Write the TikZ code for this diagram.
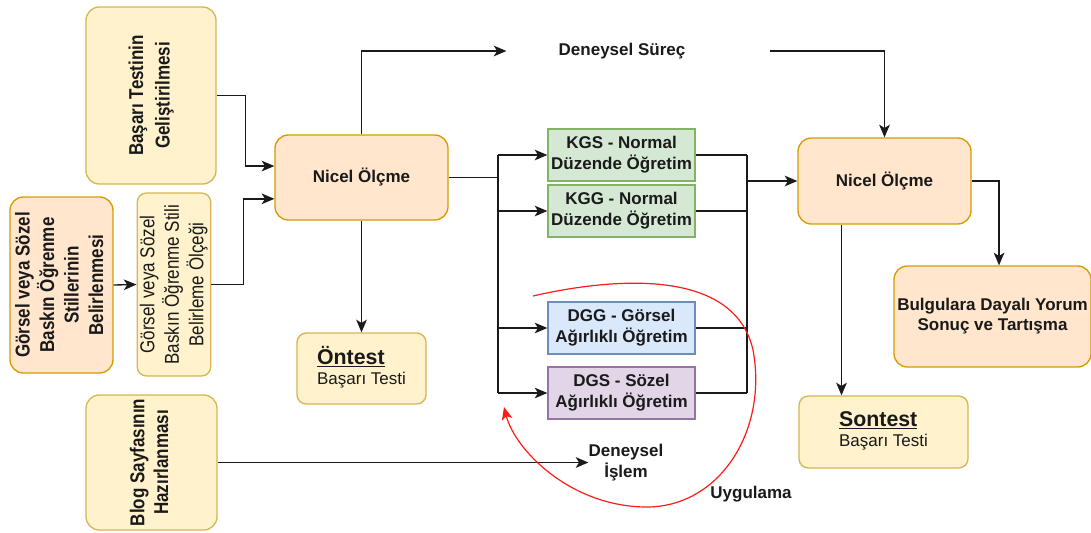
\documentclass[tikz,border=0pt]{standalone}
\usepackage{fontspec}
\setmainfont{Liberation Sans}
\usepackage{graphicx}
\usetikzlibrary{arrows.meta,positioning,calc}
\definecolor{ylwfill}{HTML}{FFF2CC}
\definecolor{ylwline}{HTML}{D6B656}
\definecolor{orgfill}{HTML}{FFE6CC}
\definecolor{orgline}{HTML}{D79B00}
\definecolor{grnfill}{HTML}{D5E8D4}
\definecolor{grnline}{HTML}{82B366}
\definecolor{blufill}{HTML}{DAE8FC}
\definecolor{bluline}{HTML}{6C8EBF}
\definecolor{prpfill}{HTML}{E1D5E7}
\definecolor{prpline}{HTML}{9673A6}
\definecolor{wire}{HTML}{1A1A1A}
\definecolor{redline}{HTML}{FF1A1A}
\newcommand{\dikyazi}[2][1]{\rotatebox{90}{\scalebox{1}[1.18]{\renewcommand{\arraystretch}{#1}\begin{tabular}{@{}c@{}}#2\end{tabular}}}}
\tikzset{
  ylwbox/.style={draw=ylwline, fill=ylwfill, rounded corners=10pt, line width=1pt,
                 inner sep=0pt, align=center, text=wire, font=\fontsize{12.75}{15}\selectfont},
  orgbox/.style={draw=orgline, fill=orgfill, rounded corners=10pt, line width=1pt,
                 inner sep=0pt, align=center, text=wire, font=\fontsize{12.75}{15}\selectfont\bfseries},
  grpbox/.style={line width=1pt, minimum width=110.25pt, minimum height=39pt, inner sep=0pt,
                 align=center, text=wire, font=\fontsize{12.75}{15.75}\selectfont\bfseries},
  lbl/.style={inner sep=0pt, align=center, text=wire, font=\fontsize{12.75}{15.75}\selectfont\bfseries},
  arr/.style={-{Stealth[length=9.5pt, width=8pt, inset=2.5pt]}, line width=1pt, color=wire},
  ln/.style={line width=1pt, color=wire},
  rarr/.style={-{Stealth[length=9.5pt, width=8pt, inset=2.5pt]}, line width=0.9pt, color=redline}}

\begin{document}
\begin{tikzpicture}[x=0.75pt, y=-0.75pt]
    \useasboundingbox (0,0) rectangle (1091,532);
    % left column
    \node[ylwbox, font=\fontsize{12.75}{15}\selectfont\bfseries, minimum width=97.5pt, minimum height=132.75pt] (basari) at (151,95.5)
      {\dikyazi[1.13]{Başarı Testinin\\Geliştirilmesi}};
    \node[orgbox, minimum width=77.25pt, minimum height=132pt] (stil) at (61.5,285)
      {\dikyazi[1.04]{Görsel veya Sözel\\Baskın Öğrenme\\Stillerinin\\Belirlenmesi}};
    \node[ylwbox, minimum width=54pt, minimum height=137.25pt, rounded corners=7pt] (olcek) at (174,284.5)
      {\dikyazi[1.04]{Görsel veya Sözel\\Baskın Öğrenme Stili\\Belirleme Ölçeği}};
    \node[ylwbox, font=\fontsize{12.75}{15}\selectfont\bfseries, minimum width=98.25pt, minimum height=101.25pt] (blog) at (151.5,462.5)
      {\dikyazi{Blog Sayfasının\\Hazırlanması}};
    % first measurement
    \node[orgbox, minimum width=129.75pt, minimum height=63.75pt] (nicelon) at (361.5,177.5) {Nicel Ölçme};
    \node[ylwbox, minimum width=96.75pt, minimum height=53.25pt, rounded corners=7pt] (ontest) at (361.5,368.5)
      {\begin{tabular}{@{}l@{}}{\fontsize{16}{18}\selectfont\bfseries\underline{Öntest}}\\Başarı Testi\end{tabular}};
    \node[lbl] (surec) at (622,51) {Deneysel Süreç};
    % groups
    \node[grpbox, draw=grnline, fill=grnfill] (kgs) at (621.5,155) {KGS - Normal\\Düzende Öğretim};
    \node[grpbox, draw=grnline, fill=grnfill] (kgg) at (621.5,211) {KGG - Normal\\Düzende Öğretim};
    \node[grpbox, draw=bluline, fill=blufill] (dgg) at (621.5,328) {DGG - Görsel\\Ağırlıklı Öğretim};
    \node[grpbox, draw=prpline, fill=prpfill] (dgs) at (621.5,393) {DGS - Sözel\\Ağırlıklı Öğretim};
    \node[lbl] (islem) at (626,462.5) {Deneysel\\İşlem};
    \node[lbl] (uygulama) at (751,494) {Uygulama};
    % last measurement
    \node[orgbox, minimum width=129.75pt, minimum height=64.5pt] (nicelson) at (884.5,181) {Nicel Ölçme};
    \node[orgbox, minimum width=147.75pt, minimum height=75.75pt] (bulgu) at (992.5,316.5)
      {Bulgulara Dayalı Yorum\\Sonuç ve Tartışma};
    \node[ylwbox, minimum width=126.75pt, minimum height=54pt, rounded corners=7pt] (sontest) at (883.5,432)
      {\begin{tabular}{@{}l@{}}{\fontsize{16}{18}\selectfont\bfseries\underline{Sontest}}\\Başarı Testi\end{tabular}};
    \coordinate (lbus) at (498,177.5);
    \coordinate (rbus) at (747,181);
    \coordinate (rs) at (533,296);
    \coordinate (re) at (504,407);
    % connectors
    \draw[arr] (basari.east) -- ++(29,0) |- ([yshift=8.6pt]nicelon.west);
    \draw[arr] (olcek.east) -- ++(32,0) |- ([yshift=-16pt]nicelon.west);
    \draw[arr] (stil.east) -- (olcek.west);
    \draw[arr] (nicelon.south) -- (ontest.north);
    \draw[arr, shorten >=39pt] (nicelon.north) |- (surec.west);
    \draw[arr, shorten <=63pt] (surec.east) -| (nicelson.north);
    \draw[ln] (nicelon.east) -- (lbus);
    \draw[ln] (lbus |- kgs.west) -- (lbus |- dgs.west);
    \foreach \g in {kgs,kgg,dgg,dgs}
      \draw[arr] (lbus |- \g.west) -- (\g.west);
    \foreach \g in {kgs,kgg,dgg,dgs}
      \draw[ln] (\g.east) -- (rbus |- \g.east);
    \draw[ln] (rbus |- kgs.east) -- (rbus |- dgs.east);
    \draw[arr] (rbus) -- (nicelson.west);
    \draw[arr] (nicelson.east) -| ([xshift=4.9pt]bulgu.north);
    \draw[arr] ([xshift=-32.25pt]nicelson.south) -- ([xshift=-32.25pt]nicelson.south |- sontest.north);
    \draw[arr] (blog.east) -- (islem.west);
    \draw[rarr] (rs) .. controls (620,276) and (735,270) .. (753,350)
                     .. controls (768,430) and (720,508) .. (645,507)
                     .. controls (570,506) and (515,450) .. (re);
  \end{tikzpicture}
\end{document}
